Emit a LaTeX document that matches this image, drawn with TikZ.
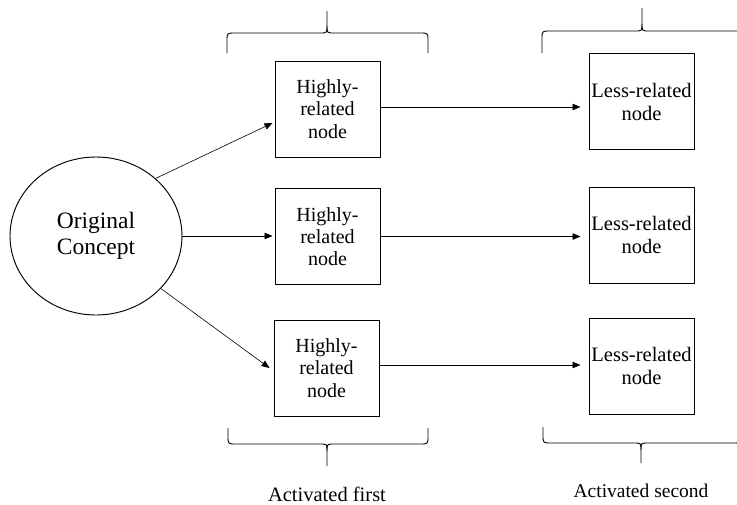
\documentclass[tikz,border=0pt]{standalone}
\usepackage{fontspec}
\setmainfont{Liberation Serif}
\usetikzlibrary{arrows.meta,shapes.geometric,calc}

% Horizontal curly brace: #1 left x, #2 right x, #3 middle x,
% #4 y of the free ends, #5 y of the long stroke, #6 y of the tip,
% #7 direction (1 = tip points up, -1 = tip points down)
\newcommand{\curlybrace}[7]{%
  \draw[bracestroke]
    (#1,#4) -- (#1,{#5+8*(#7)}) .. controls (#1,#5) .. ({#1+8},#5)
    -- ({#3-7},#5) .. controls (#3,#5) .. (#3,{#5-7*(#7)}) -- (#3,#6);
  \draw[bracestroke]
    (#3,{#5-7*(#7)}) .. controls (#3,#5) .. ({#3+7},#5)
    -- ({#2-8},#5) .. controls (#2,#5) .. (#2,{#5+8*(#7)}) -- (#2,#4);
}

\begin{document}
\begin{tikzpicture}[x=1pt,y=-1pt,
  concept/.style={draw,line width=0.95pt,ellipse,minimum width=172pt,
    minimum height=158pt,inner sep=0pt,align=center,
    font=\fontsize{23.5}{25.5}\selectfont},
  hibox/.style={draw,line width=0.95pt,rectangle,minimum width=105pt,
    minimum height=96pt,inner sep=0pt,align=center,
    font=\fontsize{20}{22.2}\selectfont},
  lobox/.style={hibox,font=\fontsize{20.5}{23}\selectfont},
  link/.style={line width=0.6pt,-{Triangle[length=8pt,width=6.5pt]}},
  bracestroke/.style={line width=0.9pt,line join=round},
  caption/.style={anchor=base,inner sep=0pt}
]
\useasboundingbox (0,0) rectangle (737,504);
\clip (0,0) rectangle (737,504);

% central concept
\node[concept] (oc) at (96,236) {Original\\Concept};

% first layer of associations
\node[hibox] (h1) at (327.5,109) {Highly-\\related\\node};
\node[hibox] (h2) at (327.5,236.5) {Highly-\\related\\node};
\node[hibox] (h3) at (326.5,368) {Highly-\\related\\node};

% second layer of associations
\node[lobox] (l1) at (641.5,101.5) {Less-related\\node};
\node[lobox] (l2) at (641.5,235) {Less-related\\node};
\node[lobox] (l3) at (641.5,366) {Less-related\\node};

% spreading activation
\draw[link] (oc.44) -- ($(h1.west)+(-2,14)$);
\draw[link,shorten >=2pt] (oc.east) -- (oc.east -| h2.west);
\draw[link] (oc.-39) -- ($(h3.west)+(-4,0)$);

\draw[link,shorten >=8pt] ($(h1.east)+(0,-2)$) -- ($(h1.east -| l1.west)+(0,-2)$);
\draw[link,shorten >=8pt] (h2.east) -- (h2.east -| l2.west);
\draw[link,shorten >=8pt] ($(h3.east)+(0,-3)$) -- ($(h3.east -| l3.west)+(0,-3)$);

% grouping braces
\curlybrace{227}{428}{327}{53}{33}{11}{1}
\curlybrace{542}{742}{642}{53}{31}{8}{1}
\curlybrace{228}{428}{327}{428}{444}{466}{-1}
\curlybrace{543}{741}{641}{427}{443}{463}{-1}

\node[caption,font=\fontsize{20.5}{23}\selectfont] (c1) at (327,501) {Activated first};
\node[caption,font=\fontsize{19.5}{22}\selectfont] (c2) at (641,497) {Activated second};
\end{tikzpicture}
\end{document}
